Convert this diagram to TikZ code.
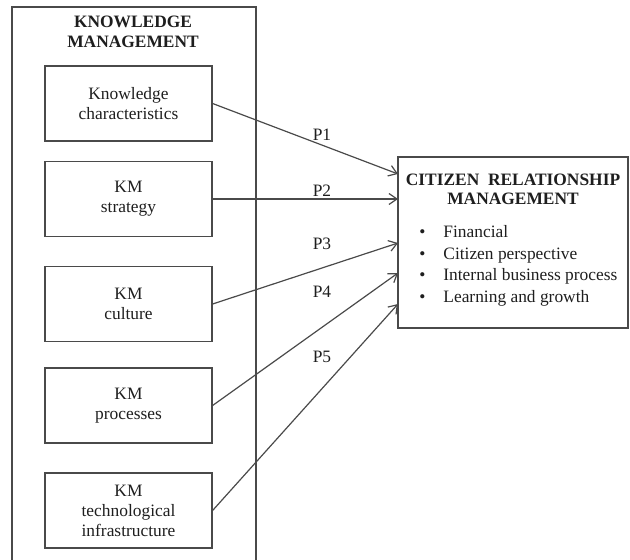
\documentclass[tikz,border=0pt]{standalone}
\usepackage{fontspec}
\setmainfont{Liberation Serif}
\usetikzlibrary{arrows.meta,positioning}
\definecolor{lineg}{HTML}{4A4A4A}
\definecolor{textg}{HTML}{1E1E1E}
\tikzset{
  kmbox/.style={draw=lineg,line width=0.6pt,minimum width=83.5pt,minimum height=37.5pt,align=center,text=textg,inner sep=1pt,font=\fontsize{8.7}{10}\selectfont},
  plabel/.style={text=textg,inner sep=1pt,font=\fontsize{8.7}{10}\selectfont},
  link/.style={-{Straight Barb[length=4pt,width=5.5pt]},draw=lineg,line width=0.6pt}
}
\begin{document}
\begin{tikzpicture}[x=0.5pt,y=-0.5pt]
\useasboundingbox (0,0) rectangle (630,560);
% outer frame, runs off the bottom of the page
\draw[lineg,line width=0.6pt] (12,561) -- (12,7) -- (256,7) -- (256,561);
\node[plabel,align=center,font=\fontsize{8.7}{10}\selectfont\bfseries] (kmt) at (133,32) {KNOWLEDGE\\MANAGEMENT};
\node[kmbox] (k0) at (128.5,103.5) {Knowledge\\characteristics};
\node[kmbox] (k1) at (128.5,199) {KM\\strategy};
\node[kmbox] (k2) at (128.5,304) {KM\\culture};
\node[kmbox] (k3) at (128.5,405.5) {KM\\processes};
\node[kmbox] (k4) at (128.5,510.5) {KM\\technological\\infrastructure};
% citizen relationship management
\node[draw=lineg,line width=0.6pt,minimum width=115pt,minimum height=85.5pt,inner sep=0pt] (crm) at (513,242.5) {};
\node[plabel,align=center,font=\fontsize{8.7}{9.8}\selectfont\bfseries] (crmt) at (513,189.5) {CITIZEN\ \ RELATIONSHIP\\MANAGEMENT};
\node[plabel,anchor=west,inner sep=0pt,font=\fontsize{8.7}{10.75}\selectfont] (crml) at (419,265.5)
  {\begin{tabular}{@{}p{12pt}@{}l@{}}\textbullet & Financial\\\textbullet & Citizen perspective\\\textbullet & Internal\ business\ process\\\textbullet & Learning\ and\ growth\end{tabular}};
\coordinate (e0) at (398,174);
\coordinate (e1) at (398,199);
\coordinate (e2) at (398,243);
\coordinate (e3) at (398,273);
\coordinate (e4) at (398,304);
\draw[link] (k0.east) -- (e0);
\draw[link] (k1.east) -- (e1);
\draw[link] (k2.east) -- (e2);
\draw[link] (k3.east) -- (e3);
\draw[link] (k4.east) -- (e4);
\node[plabel] (p1) at (322,135) {P1};
\node[plabel] (p2) at (322,191) {P2};
\node[plabel] (p3) at (322,244) {P3};
\node[plabel] (p4) at (322,292) {P4};
\node[plabel] (p5) at (322,357) {P5};
\end{tikzpicture}
\end{document}
